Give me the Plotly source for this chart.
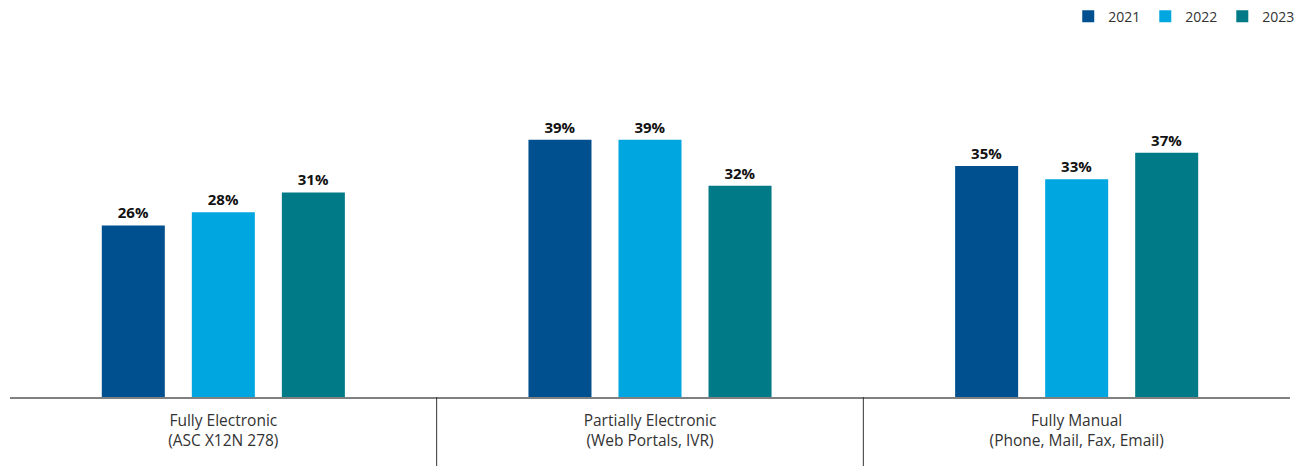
import plotly.graph_objects as go

categories = ["Fully Electronic<br>(ASC X12N 278)",
              "Partially Electronic<br>(Web Portals, IVR)",
              "Fully Manual<br>(Phone, Mail, Fax, Email)"]
years = ["2021", "2022", "2023"]
v2021 = [26, 39, 35]
v2022 = [28, 39, 33]
v2023 = [31, 32, 37]
colors = ["#004F8F", "#00A6DF", "#007A87"]

FONT = "Open Sans"

fig = go.Figure()
for name, vals, col in zip(years, [v2021, v2022, v2023], colors):
    fig.add_trace(go.Bar(
        x=categories, y=vals, name=name, marker=dict(color=col, line=dict(width=0)),
        texttemplate="<b>%{y}%</b>", textposition="outside",
        textfont=dict(size=15, color="#111111", family=FONT),
        cliponaxis=False,
    ))

fig.update_layout(
    width=1304, height=466,
    margin=dict(l=2, r=22, t=32, b=77, autoexpand=False),
    plot_bgcolor="white", paper_bgcolor="white",
    barmode="group", bargap=0.367, bargroupgap=0.3,
    font=dict(family=FONT, color="#333333"),
    showlegend=True,
    legend=dict(orientation="h", x=1.008, xanchor="right",
                y=1.11, yanchor="top", bgcolor="rgba(0,0,0,0)",
                font=dict(size=14, color="#333333"), itemwidth=30,
                traceorder="normal"),
    xaxis=dict(showline=True, linecolor="#808080", linewidth=2, ticks="",
               automargin=False, ticklabelstandoff=8,
               tickfont=dict(size=15.5, color="#333333")),
    yaxis=dict(range=[0, 54.1], visible=False, showgrid=False, zeroline=False,
               automargin=False),
)

for xp in [1/3, 2/3]:
    fig.add_shape(type="line", xref="paper", yref="paper", x0=xp, x1=xp,
                  y0=0, y1=-0.25, line=dict(color="#333333", width=1))

fig.write_html("out.html")
